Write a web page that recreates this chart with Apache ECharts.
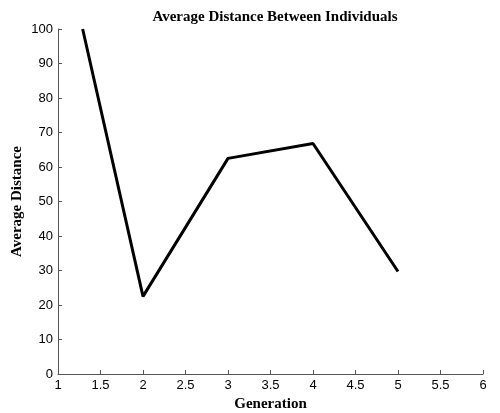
<!DOCTYPE html>
<html>
<head>
<meta charset="utf-8">
<script src="https://cdn.jsdelivr.net/npm/echarts@6/dist/echarts.min.js"></script>
<style>html,body{margin:0;padding:0;background:#fff;overflow:hidden}#c{width:500px;height:413px}</style>
</head>
<body>
<div id="c"></div>
<script>
var generations = [1.29, 2, 3, 4, 5];
var avgDistance = [100, 22.5, 62.5, 66.8, 29.7];
var titleText = 'Average Distance Between Individuals';
var xName = 'Generation';
var yName = 'Average Distance';

var chart = echarts.init(document.getElementById('c'), null, {renderer: 'canvas', width: 500, height: 413});
var axisColor = '#555';
var serif = 'Liberation Serif, Times New Roman, serif';
var tickFont = {color: '#000', fontFamily: 'Liberation Sans, Arial, sans-serif', fontSize: 13};
chart.setOption({
  animation: false,
  backgroundColor: '#fff',
  title: {
    text: titleText,
    left: 270, top: 5, textAlign: 'center',
    textStyle: {fontFamily: serif, fontWeight: 'bold', fontSize: 15, color: '#000'}
  },
  grid: {left: 58, right: 17, top: 29, bottom: 39, containLabel: false, outerBoundsMode: 'none'},
  xAxis: {
    type: 'value', min: 1, max: 6, interval: 0.5,
    name: xName, nameLocation: 'middle', nameGap: 22,
    nameTextStyle: {fontFamily: serif, fontWeight: 'bold', fontSize: 15, color: '#000'},
    axisLine: {show: true, lineStyle: {color: axisColor, width: 1}},
    axisTick: {show: true, inside: true, length: 4, lineStyle: {color: axisColor}},
    axisLabel: Object.assign({margin: 5}, tickFont),
    splitLine: {show: false}
  },
  yAxis: {
    type: 'value', min: 0, max: 100, interval: 10,
    name: yName, nameLocation: 'middle', nameGap: 33, nameMoveOverlap: false,
    nameTextStyle: {fontFamily: serif, fontWeight: 'bold', fontSize: 15, color: '#000'},
    axisLine: {show: true, lineStyle: {color: axisColor, width: 1}},
    axisTick: {show: true, inside: true, length: 4, lineStyle: {color: axisColor}},
    axisLabel: Object.assign({margin: 5}, tickFont),
    splitLine: {show: false}
  },
  series: [{
    type: 'line',
    data: generations.map(function (g, i) { return [g, avgDistance[i]]; }),
    showSymbol: false,
    lineStyle: {color: '#000', width: 3},
    itemStyle: {color: '#000'}
  }]
});
</script>
</body>
</html>
